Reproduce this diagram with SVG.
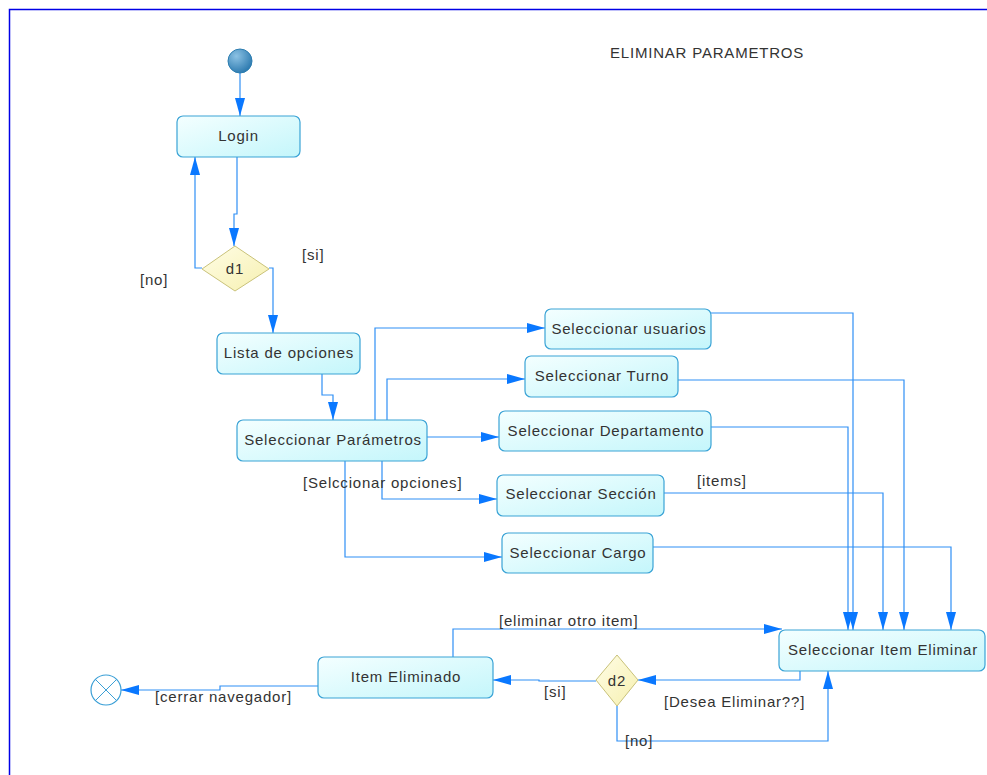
<svg xmlns="http://www.w3.org/2000/svg" width="987" height="775" viewBox="0 0 987 775">
  <style>
    text { font-family: "Liberation Sans", Arial, sans-serif; font-size: 15px; letter-spacing: 0.8px; fill: #333333; }
    .node rect { fill: url(#actFill); stroke: #3aa3d6; stroke-width: 1.2; }
    .node text { text-anchor: middle; }
    .dec polygon { fill: url(#decFill); stroke: #c9c27a; stroke-width: 1; }
    .dec text { text-anchor: middle; }
    #connectors path { fill: none; stroke: #2f8ff5; stroke-width: 1.2; marker-end: url(#arrow); }
  </style>
  <defs>
    <linearGradient id="actFill" x1="0" y1="0" x2="1" y2="1">
      <stop offset="0" stop-color="#f4ffff"/>
      <stop offset="1" stop-color="#c4f6fb"/>
    </linearGradient>
    <linearGradient id="decFill" x1="0" y1="0" x2="1" y2="1">
      <stop offset="0" stop-color="#fffde6"/>
      <stop offset="1" stop-color="#f6f0b0"/>
    </linearGradient>
    <radialGradient id="startFill" cx="0.35" cy="0.3" r="0.75">
      <stop offset="0" stop-color="#8cc2e4"/>
      <stop offset="1" stop-color="#2a78ae"/>
    </radialGradient>
    <marker id="arrow" markerUnits="userSpaceOnUse" markerWidth="18" markerHeight="10" viewBox="0 0 18 10" refX="18" refY="5" orient="auto">
      <path d="M0,0 L18,5 L0,10 z" fill="#0a78ff"/>
    </marker>
  </defs>

  <rect width="987" height="775" fill="#ffffff"/>
  <path d="M9.5,775 V9.5 H987" fill="none" stroke="#0000e6" stroke-width="1.5"/>

  <text x="610" y="58">ELIMINAR PARAMETROS</text>

  <g id="connectors">
    <path d="M240,73 V116"/>
    <path d="M237,157 V214 H234 V246"/>
    <path d="M202,268 H195 V157"/>
    <path d="M269,268 H273 V333"/>
    <path d="M322,374 V395 H333 V420"/>
    <path d="M375,420 V328 H545"/>
    <path d="M387,420 V379 H525"/>
    <path d="M427,437 H499"/>
    <path d="M382,461 V499 H497"/>
    <path d="M345,461 V557 H502"/>
    <path d="M711,313 H853 V630"/>
    <path d="M678,380 H904 V630"/>
    <path d="M711,427 H848 V630"/>
    <path d="M664,493 H883 V630"/>
    <path d="M653,547 H951 V630"/>
    <path d="M800,671 V680 H638"/>
    <path d="M596,681 H539 V680 H493"/>
    <path d="M617,706 V741 H828 V671"/>
    <path d="M453,657 V629 H782"/>
    <path d="M318,686 H220 V690 H121"/>
  </g>

  <g id="labels">
    <text x="140" y="285">[no]</text>
    <text x="302" y="260">[si]</text>
    <text x="303" y="488">[Selccionar opciones]</text>
    <text x="697" y="486">[items]</text>
    <text x="499" y="626">[eliminar otro item]</text>
    <text x="544" y="697">[si]</text>
    <text x="664" y="707">[Desea Eliminar??]</text>
    <text x="625" y="746">[no]</text>
    <text x="155" y="702">[cerrar navegador]</text>
  </g>

  <g id="start">
    <circle cx="240" cy="61" r="12" fill="url(#startFill)" stroke="#2c7db0" stroke-width="1"/>
  </g>

  <g id="login" class="node">
    <rect x="177" y="116" width="123" height="41" rx="6"/>
    <text x="238.5" y="141">Login</text>
  </g>

  <g id="d1" class="dec">
    <polygon points="202,269 235,246 269,269 235,291"/>
    <text x="235" y="274">d1</text>
  </g>

  <g id="lista" class="node">
    <rect x="217" y="333" width="143" height="41" rx="6"/>
    <text x="289" y="358">Lista de opciones</text>
  </g>

  <g id="parametros" class="node">
    <rect x="237" y="420" width="190" height="41" rx="6"/>
    <text x="333" y="445">Seleccionar Parámetros</text>
  </g>

  <g id="usuarios" class="node">
    <rect x="545" y="309" width="166" height="40" rx="6"/>
    <text x="629" y="334">Seleccionar usuarios</text>
  </g>

  <g id="turno" class="node">
    <rect x="525" y="356" width="153" height="41" rx="6"/>
    <text x="602" y="381">Seleccionar Turno</text>
  </g>

  <g id="departamento" class="node">
    <rect x="499" y="411" width="212" height="40" rx="6"/>
    <text x="606" y="436">Seleccionar Departamento</text>
  </g>

  <g id="seccion" class="node">
    <rect x="497" y="475" width="167" height="41" rx="6"/>
    <text x="581" y="499">Seleccionar Sección</text>
  </g>

  <g id="cargo" class="node">
    <rect x="502" y="533" width="151" height="40" rx="6"/>
    <text x="578" y="558">Seleccionar Cargo</text>
  </g>

  <g id="itemEliminar" class="node">
    <rect x="779" y="630" width="206" height="41" rx="6"/>
    <text x="883" y="655">Seleccionar Item Eliminar</text>
  </g>

  <g id="d2" class="dec">
    <polygon points="596,680 617,655 638,680 617,706"/>
    <text x="617" y="686">d2</text>
  </g>

  <g id="itemEliminado" class="node">
    <rect x="318" y="657" width="175" height="41" rx="6"/>
    <text x="406" y="682">Item Eliminado</text>
  </g>

  <g id="final">
    <circle cx="106" cy="690" r="15" fill="#ffffff" stroke="#3a9fd6" stroke-width="1.2"/>
    <path d="M95.4,679.4 L116.6,700.6 M116.6,679.4 L95.4,700.6" stroke="#3a9fd6" stroke-width="1"/>
  </g>
</svg>
